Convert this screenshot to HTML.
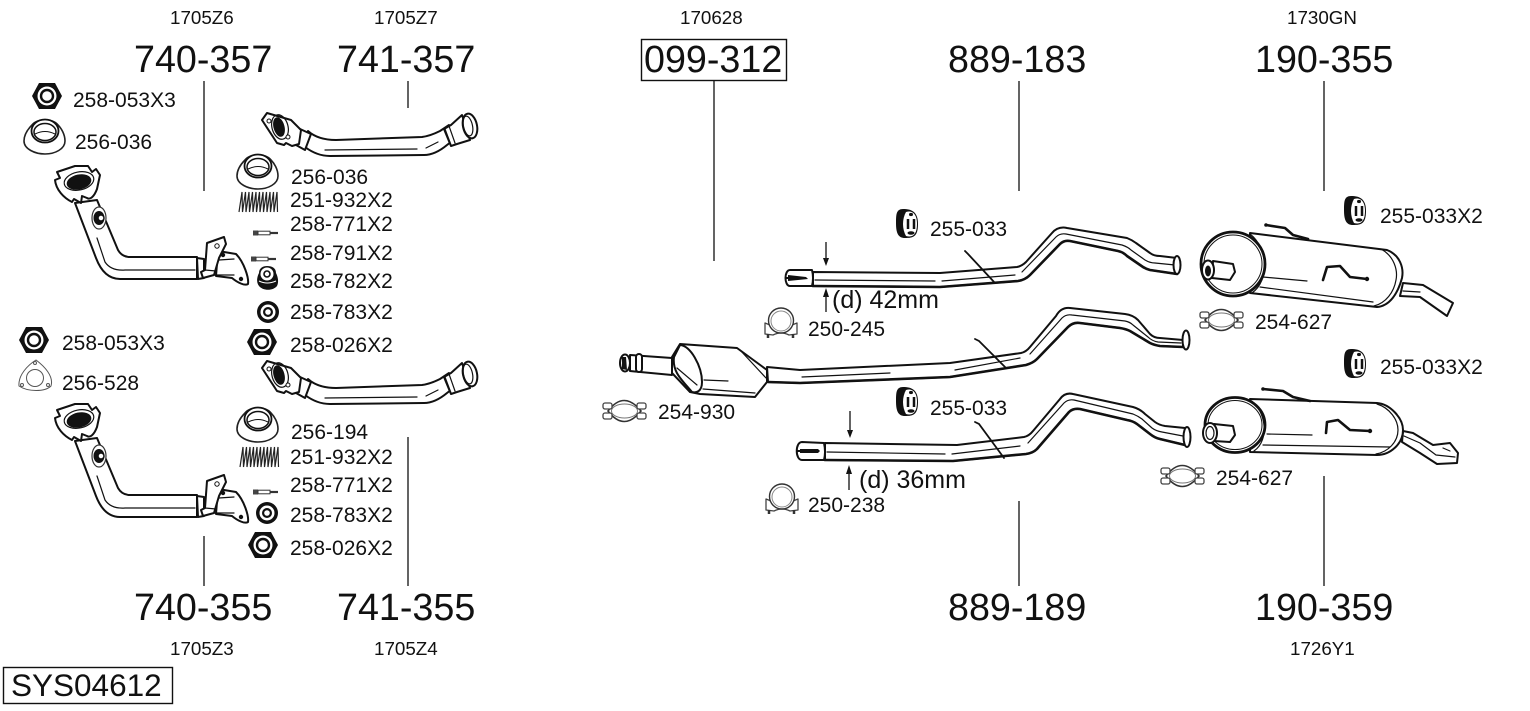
<!DOCTYPE html>
<html><head><meta charset="utf-8"><style>
html,body{margin:0;padding:0;background:#fff;width:1530px;height:711px;overflow:hidden}
svg{display:block}
text{font-family:"Liberation Sans",sans-serif;fill:#111}
.b{font-size:37.7px}.m{font-size:21px}.s{font-size:18.8px}.d{font-size:25px}
.p{fill:#fff;stroke:#111;stroke-width:2;stroke-linejoin:round;stroke-linecap:round}
.l{fill:none;stroke:#111;stroke-width:1.2;stroke-linecap:round;stroke-linejoin:round}
.t{fill:none;stroke:#111;stroke-width:2.6;stroke-linecap:round;stroke-linejoin:round}
.v{stroke:#222;stroke-width:1.4}
</style></head><body>
<svg width="1530" height="711" viewBox="0 0 1530 711" xmlns="http://www.w3.org/2000/svg">
<defs>
<g id="nut"><polygon points="-15,0 -8,-13 8,-13 15,0 8,13 -8,13" fill="#111"/><circle r="9.5" fill="#fff"/><circle r="6" fill="#fff" stroke="#111" stroke-width="2.4"/></g>
<g id="cone"><path fill="#fff" stroke="#222" stroke-width="1.6" stroke-linejoin="round" d="M-21,4C-21,-3 -16,-9 -13,-12C-8,-19 8,-19 13,-12C16,-9 20,-3 20,4C20,12 10,17 0,17C-10,17 -21,12 -21,4Z"/><ellipse cx="0" cy="-6" rx="13.500" ry="11.500" fill="#fff" stroke="#111" stroke-width="1.800"/><ellipse cx="0" cy="-5" rx="11" ry="8.500" fill="#fff" stroke="#111" stroke-width="1.500"/><path d="M-10,-3Q0,-8 10,-3" fill="none" stroke="#111" stroke-width="1"/></g>
<g id="spring"><path fill="none" stroke="#222" stroke-width="1.2" d="M0,20L3,0L3.500,20L6.500,0L7,20L10,0L10.500,20L13.500,0L14,20L17,0L17.500,20L20.500,0L21,20L24,0L24.500,20L27.500,0L28,20L31,0L31.500,20L34.500,0L35,20L38,0L38.500,20"/></g>
<g id="bolt"><rect x="0" y="-2.5" width="5" height="5" fill="#444"/><rect x="5" y="-1.8" width="12" height="3.6" fill="#fff" stroke="#333"/><path d="M17,0H25" stroke="#333" stroke-width="2.2"/></g>
<g id="wash"><circle r="11" fill="#111"/><circle r="7.5" fill="#fff"/><circle r="5" fill="#111"/><circle r="2.8" fill="#fff"/></g>
<g id="hang"><path d="M7,0C0,0 0,6 0,14C0,24 2,29 9,29C17,29 22,28 22,15C22,3 16,0 7,0Z" fill="#111"/><path d="M10,3C17,1 21,6 21,15C21,25 17,29 10,27C6,20 6,10 10,3Z" fill="#fff"/><path d="M12,10V20M18,10V20" stroke="#111" stroke-width="2.500"/><ellipse cx="15" cy="5.500" rx="2" ry="1.600" fill="#111"/><ellipse cx="15" cy="24" rx="3.500" ry="1.700" fill="#111"/></g>
<g id="uclamp"><path fill="#fff" stroke="#444" stroke-width="1.300" stroke-linejoin="round" d="M1,16L1,27L9,28Q17,24 25,28L33,27L33,16L28,18L6,18Z"/><circle cx="17" cy="13.500" r="12.500" fill="#fff" stroke="#333" stroke-width="1.400"/><circle cx="17" cy="14" r="10" fill="#fff" stroke="#888" stroke-width="1"/><path d="M4,27V31M29,27V31" stroke="#333" stroke-width="2.500"/></g>
<g id="band"><path d="M6,11Q22,-10 39,11Q22,32 6,11Z" fill="#fff" stroke="#333" stroke-width="1.600"/><ellipse cx="22.500" cy="11" rx="13" ry="7" fill="#fff" stroke="#777" stroke-width="1"/><rect x="1" y="3" width="9" height="6" rx="2" fill="#fff" stroke="#444" stroke-width="1.300"/><rect x="1" y="13" width="9" height="6" rx="2" fill="#fff" stroke="#444" stroke-width="1.300"/><rect x="35" y="3" width="9" height="6" rx="2" fill="#fff" stroke="#444" stroke-width="1.300"/><rect x="35" y="13" width="9" height="6" rx="2" fill="#fff" stroke="#444" stroke-width="1.300"/></g>
<g id="mani">
<path class="p" stroke-width="2.400" d="M75,203L96,258Q104,279 120,279L197,279L197,257L130,257Q122,257 118,250L97,200Z"/>
<path class="l" d="M97,238L105,262Q111,271 125,270L195,270"/>
<path class="p" stroke-width="2.400" d="M55,180L60,178L57,172L75,166L88,166L92,172L96,169L100,175L97,189C94,197 90,200 87,198L82,196L81,203L74,199L72,202C64,198 56,190 55,180Z"/>
<ellipse cx="79" cy="182" rx="12.500" ry="7.500" transform="rotate(-12 79 182)" fill="#111"/>
<ellipse class="l" cx="79" cy="181" rx="15" ry="9" transform="rotate(-12 79 181)"/>
<ellipse cx="99" cy="218" rx="7" ry="11" fill="#fff" stroke="#333" stroke-width="1.200"/>
<ellipse cx="99" cy="218" rx="5.500" ry="7" fill="#111"/>
<circle cx="101" cy="218" r="3" fill="#fff" stroke="#111" stroke-width="1.500"/>
<path class="p" stroke-width="2.200" d="M218,251L236,254C244,262 249,278 248,284C245,286 238,283 232,278L216,276Z"/>
<circle cx="223" cy="255" r="2.200" fill="#111"/><circle cx="241" cy="279" r="2.200" fill="#111"/>
<path class="p" d="M197,258L204,259L204,278L198,279Z"/>
<path class="p" stroke-width="2.200" d="M207,243L224,237L226,244L219,258L214,275L203,278L201,272L205,270Z"/>
<circle cx="217" cy="246" r="2.200" fill="#fff" stroke="#111"/>
<path class="l" d="M205,270L216,271M219,260L234,259M215,275L234,275"/>
</g>
<g id="dpipe">
<path class="p" stroke-width="2.400" d="M308,131Q318,140 336,140L422,137Q430,136 440,131L449,125L456,138L447,145Q435,155 424,155L330,156Q317,156 305,147Z"/>
<path class="l" d="M325,150L417,149M426,148L438,142"/>
<path class="p" d="M300,129L311,134L305,150L296,145Z"/>
<path class="p" stroke-width="2.200" d="M262,120L267,113L291,120L301,130L299,144L292,146L286,143L284,145L277,143Z"/>
<ellipse cx="279" cy="127" rx="5.500" ry="10" transform="rotate(-15 279 127)" fill="#111"/>
<ellipse class="l" cx="280" cy="127" rx="8" ry="12.500" transform="rotate(-15 280 127)"/>
<circle cx="269" cy="121" r="2" fill="#fff" stroke="#111"/><circle cx="288" cy="137" r="2" fill="#fff" stroke="#111"/>
<path class="p" d="M444,129L451,125L462,115L470,140L457,144L451,146Z"/>
<path class="l" d="M449,126L455,143M445,129L451,145"/>
<ellipse class="p" cx="470" cy="126" rx="7" ry="12.500" transform="rotate(-12 470 126)"/>
<ellipse class="l" cx="468" cy="126" rx="4.500" ry="10" transform="rotate(-12 468 126)"/>
</g>
</defs>

<!-- vertical leaders -->
<path class="v" d="M204,81V191M408,81V108M714,81V261M1019,81V191M1324,81V191M204,536V586M408,437V586M1019,501V586M1324,476V586"/>

<!-- frames -->
<rect x="641.500" y="39.500" width="145" height="41" fill="none" stroke="#111" stroke-width="1.400"/>
<rect x="3.500" y="667.500" width="169" height="36" fill="none" stroke="#111" stroke-width="1.400"/>

<!-- left assemblies -->
<use href="#mani"/>
<use href="#mani" y="238"/>
<use href="#dpipe"/>
<use href="#dpipe" y="248"/>
<use href="#nut" x="47" y="96"/>
<use href="#nut" x="34" y="340"/>
<use href="#nut" x="262" y="342"/>
<use href="#nut" x="263" y="545"/>
<use href="#cone" x="45" y="137"/>
<use href="#cone" x="258" y="172"/>
<path d="M19,386C18,375 28,365 36,360C44,366 54,376 51,386C45,392 28,392 19,386Z" fill="#fff" stroke="#555" stroke-width="1"/>
<circle cx="35" cy="378" r="8.500" fill="none" stroke="#555" stroke-width="1"/>
<circle cx="35" cy="363" r="1.500" fill="none" stroke="#555"/><circle cx="22" cy="385" r="1.500" fill="none" stroke="#555"/><circle cx="48" cy="385" r="1.500" fill="none" stroke="#555"/>
<use href="#cone" x="258" y="425"/>
<use href="#spring" x="239" y="192"/>
<use href="#spring" x="240" y="447"/>
<use href="#bolt" x="253" y="233"/>
<use href="#bolt" x="251" y="259"/>
<use href="#bolt" x="253" y="492"/>
<path d="M259,273C259,268 263,266 267,266C272,266 276,268 276,273C278,277 279,282 277,286C273,291 263,291 259,286C256,282 257,277 259,273Z" fill="#111"/>
<circle cx="267" cy="274" r="6.500" fill="#fff"/><circle cx="267" cy="274" r="3" fill="#fff" stroke="#111" stroke-width="1.600"/>
<path d="M259,281Q267,285 276,281" stroke="#fff" fill="none"/>
<use href="#wash" x="268" y="312"/>
<use href="#wash" x="267" y="513"/>

<!-- pipe 889-183 -->
<path class="p" d="M813,272L940,273L1017,267Q1022,266 1026,262L1052,233Q1058,226 1067,228L1127,238Q1132,240 1136,243L1150,253Q1154,256 1160,256L1177,258L1177,274L1150,270Q1146,269 1143,267L1127,256Q1123,252 1118,251L1070,241Q1064,240 1060,244L1030,275Q1025,280 1018,281L940,287L813,286Z"/>
<path class="t" d="M813,286L940,287L1018,281Q1025,280 1030,275L1060,244Q1064,240 1070,241L1118,251Q1123,252 1127,256L1143,267Q1146,269 1150,270L1177,274"/>
<path class="l" d="M815,280L935,281M942,281L1015,275M1022,272L1056,237Q1060,233 1066,234L1122,245Q1128,247 1131,250L1145,260Q1150,263 1155,263L1175,265"/>
<path class="p" d="M790,270L812,270Q814,278 812,286L790,286C784,286 784,270 790,270Z"/>
<path d="M788,275L806,277L808,279L788,281Z" fill="#111"/><path d="M785,278H790" stroke="#111" stroke-width="2"/>
<path fill="none" stroke="#111" stroke-width="1.800" stroke-linecap="round" d="M965,251L968,254L995,283"/>
<ellipse class="p" cx="1177" cy="265" rx="3.500" ry="9"/>

<!-- catalyst pipe -->
<path class="p" d="M767,367L800,370L950,363L1021,353Q1026,352 1030,347L1056,316Q1061,307 1070,308L1125,314Q1133,315 1138,320L1150,334Q1154,338 1160,338L1183,340L1183,347L1160,346Q1154,345 1150,343L1130,331Q1126,329 1120,328L1080,323Q1073,322 1068,327L1037,359Q1033,363 1026,365L950,377L800,383L768,382Z"/>
<path class="t" d="M768,382L800,383L950,377L1026,365Q1033,363 1037,359L1068,327Q1073,322 1080,323L1120,328Q1126,329 1130,331L1150,343Q1154,345 1160,346L1183,347"/>
<path class="l" d="M802,377L890,373M955,370L1020,358M1030,354L1062,318Q1066,314 1072,315L1125,321Q1130,322 1133,325L1148,337Q1152,341 1158,342L1181,343"/>
<path fill="none" stroke="#111" stroke-width="1.800" stroke-linecap="round" d="M975,339L979,341L1006,368"/>
<ellipse class="p" cx="1186" cy="340" rx="3.500" ry="9.500"/>
<path class="p" d="M630,355L672,358L672,375L630,371Z"/>
<ellipse class="p" cx="625" cy="363" rx="5" ry="8.500"/><path d="M622,357L626,357L627,370L622,369Z" fill="#111"/>
<rect x="636" y="354" width="6" height="18" rx="3" class="p"/>
<path class="p" stroke-width="2.400" d="M672,357L680,344L737,348L767,370L767,382L755,397L700,394L690,392L672,373Z"/>
<path class="p" d="M680,345C690,345 702,366 702,382C702,392 696,393 692,392C682,380 672,372 674,357Z"/>
<path class="l" d="M677,368L697,385M704,380L728,381M703,389L755,393M740,350L766,378"/>

<!-- pipe 889-189 -->
<path class="p" d="M825,443L957,445L1024,437Q1029,436 1033,431L1060,399Q1065,392 1073,394L1133,407Q1140,409 1145,414L1155,422Q1159,425 1165,426L1185,428L1185,445L1160,439Q1155,438 1150,434L1137,424Q1133,421 1127,420L1080,409Q1073,408 1069,412L1037,449Q1033,453 1026,454L953,461L825,460Z"/>
<path class="t" d="M825,460L953,461L1026,454Q1033,453 1037,449L1069,412Q1073,408 1080,409L1127,420Q1133,421 1137,424L1150,434Q1155,438 1160,439L1185,445"/>
<path class="l" d="M827,452L945,454M952,454L1020,446M1028,443L1064,403Q1068,399 1074,400L1133,414Q1138,416 1142,419L1152,428Q1156,431 1162,432L1183,436"/>
<path class="p" d="M802,442L824,443Q826,452 824,460L802,460C795,460 795,442 802,442Z"/>
<path d="M800,449L818,449L820,451L818,453L800,453Z" fill="#111"/><path d="M797,451H803" stroke="#111" stroke-width="2"/>
<path fill="none" stroke="#111" stroke-width="1.800" stroke-linecap="round" d="M975,422L979,424L1004,458"/>
<ellipse class="p" cx="1187" cy="437" rx="3.500" ry="10"/>

<!-- arrows -->
<g fill="#111" stroke="none"><path d="M823,258H829L826,266ZM823,297H829L826,288ZM847,430H853L850,438ZM846,474H852L849,465Z"/></g>
<path class="v" d="M826,242V260M826,296V312M850,411V432M849,473V490"/>

<!-- muffler 190-355 -->
<path class="p" d="M1403,283L1423,285L1453,303L1447,316L1420,297L1400,296Z"/>
<path class="l" d="M1403,291L1420,292"/>
<path class="p" stroke-width="2.400" d="M1250,233L1387,250C1400,255 1404,268 1402,278C1398,293 1390,306 1377,307L1250,293Z"/>
<path class="l" d="M1381,249C1394,256 1398,270 1396,280C1394,292 1386,303 1374,306"/>
<ellipse cx="1233" cy="264" rx="32" ry="32" fill="#fff" stroke="#111" stroke-width="2.800"/>
<ellipse cx="1233" cy="264" rx="29" ry="29" fill="none" stroke="#111" stroke-width="1"/>
<path class="l" d="M1250,234C1268,248 1270,280 1252,293M1263,277L1307,281M1260,287L1373,302"/>
<path class="t" stroke-width="1.800" d="M1266,225L1285,228L1293,235L1308,239"/>
<circle cx="1266" cy="225" r="1.800" fill="#111"/>
<path class="t" d="M1323,280L1327,267L1340,266L1350,277L1367,279"/>
<circle cx="1367" cy="279" r="2.200" fill="#111"/>
<path class="p" d="M1213,261L1233,264L1235,272L1230,280L1212,278Z"/>
<ellipse class="p" cx="1208" cy="270" rx="6" ry="9.500"/>
<ellipse cx="1208" cy="271" rx="3" ry="5.500" fill="#111"/>

<!-- muffler 190-359 -->
<path class="p" d="M1403,431L1413,433L1433,445L1450,443L1458,453L1457,463L1437,464L1420,453L1402,442Z"/>
<path class="l" d="M1404,436L1420,443L1436,455L1455,457M1443,448L1450,451"/>
<path class="p" stroke-width="2.400" d="M1250,399L1377,403C1390,404 1403,418 1403,430C1403,444 1390,455 1377,455L1250,452Z"/>
<path class="l" d="M1377,404C1390,408 1398,420 1398,430C1398,442 1388,452 1376,454"/>
<ellipse cx="1235" cy="425" rx="30" ry="27.500" fill="#fff" stroke="#111" stroke-width="2.800"/>
<ellipse cx="1235" cy="425" rx="27" ry="24.500" fill="none" stroke="#111" stroke-width="1"/>
<path class="l" d="M1250,400C1266,410 1270,440 1254,451M1267,434L1312,435M1263,445L1390,447"/>
<path class="t" stroke-width="1.800" d="M1263,389L1283,391L1293,397L1310,401"/>
<circle cx="1263" cy="389" r="1.800" fill="#111"/>
<path class="t" d="M1326,433L1327,422L1338,420L1350,430L1370,431"/>
<circle cx="1370" cy="431" r="2.200" fill="#111"/>
<path class="p" d="M1214,424L1233,426L1235,435L1230,442L1214,441Z"/>
<ellipse class="p" cx="1210" cy="433" rx="7" ry="10"/>
<ellipse class="l" cx="1210" cy="433" rx="4" ry="6.500"/>

<!-- hangers and clamps -->
<use href="#hang" x="896" y="209"/>
<use href="#hang" x="896" y="387"/>
<use href="#hang" x="1344" y="196"/>
<use href="#hang" x="1344" y="349"/>
<use href="#uclamp" x="764" y="307"/>
<use href="#uclamp" x="765" y="483"/>
<use href="#band" x="602" y="400"/>
<use href="#band" x="1199" y="309"/>
<use href="#band" x="1160" y="465"/>

<!-- big labels -->
<text class="b" x="134" y="72">740-357</text>
<text class="b" x="337" y="72">741-357</text>
<text class="b" x="644" y="72">099-312</text>
<text class="b" x="948" y="72">889-183</text>
<text class="b" x="1255" y="72">190-355</text>
<text class="b" x="134" y="620">740-355</text>
<text class="b" x="337" y="620">741-355</text>
<text class="b" x="948" y="620">889-189</text>
<text class="b" x="1255" y="620">190-359</text>
<text x="11" y="696" style="font-size:31.500px">SYS04612</text>

<!-- small labels -->
<text class="s" x="170" y="24">1705Z6</text>
<text class="s" x="374" y="24">1705Z7</text>
<text class="s" x="680" y="24">170628</text>
<text class="s" x="1287" y="24">1730GN</text>
<text class="s" x="170" y="655">1705Z3</text>
<text class="s" x="374" y="655">1705Z4</text>
<text class="s" x="1290" y="655">1726Y1</text>

<!-- part labels -->
<text class="m" x="73" y="107">258-053X3</text>
<text class="m" x="75" y="149">256-036</text>
<text class="m" x="291" y="184">256-036</text>
<text class="m" x="290" y="207">251-932X2</text>
<text class="m" x="290" y="231">258-771X2</text>
<text class="m" x="290" y="260">258-791X2</text>
<text class="m" x="290" y="288">258-782X2</text>
<text class="m" x="290" y="319">258-783X2</text>
<text class="m" x="290" y="352">258-026X2</text>
<text class="m" x="62" y="350">258-053X3</text>
<text class="m" x="62" y="390">256-528</text>
<text class="m" x="291" y="439">256-194</text>
<text class="m" x="290" y="464">251-932X2</text>
<text class="m" x="290" y="492">258-771X2</text>
<text class="m" x="290" y="522">258-783X2</text>
<text class="m" x="290" y="555">258-026X2</text>
<text class="m" x="930" y="236">255-033</text>
<text class="m" x="808" y="336">250-245</text>
<text class="m" x="658" y="419">254-930</text>
<text class="m" x="930" y="415">255-033</text>
<text class="m" x="808" y="512">250-238</text>
<text class="m" x="1380" y="223">255-033X2</text>
<text class="m" x="1255" y="329">254-627</text>
<text class="m" x="1380" y="374">255-033X2</text>
<text class="m" x="1216" y="485">254-627</text>
<text class="d" x="832" y="308">(d) 42mm</text>
<text class="d" x="859" y="488">(d) 36mm</text>
</svg>
</body></html>
